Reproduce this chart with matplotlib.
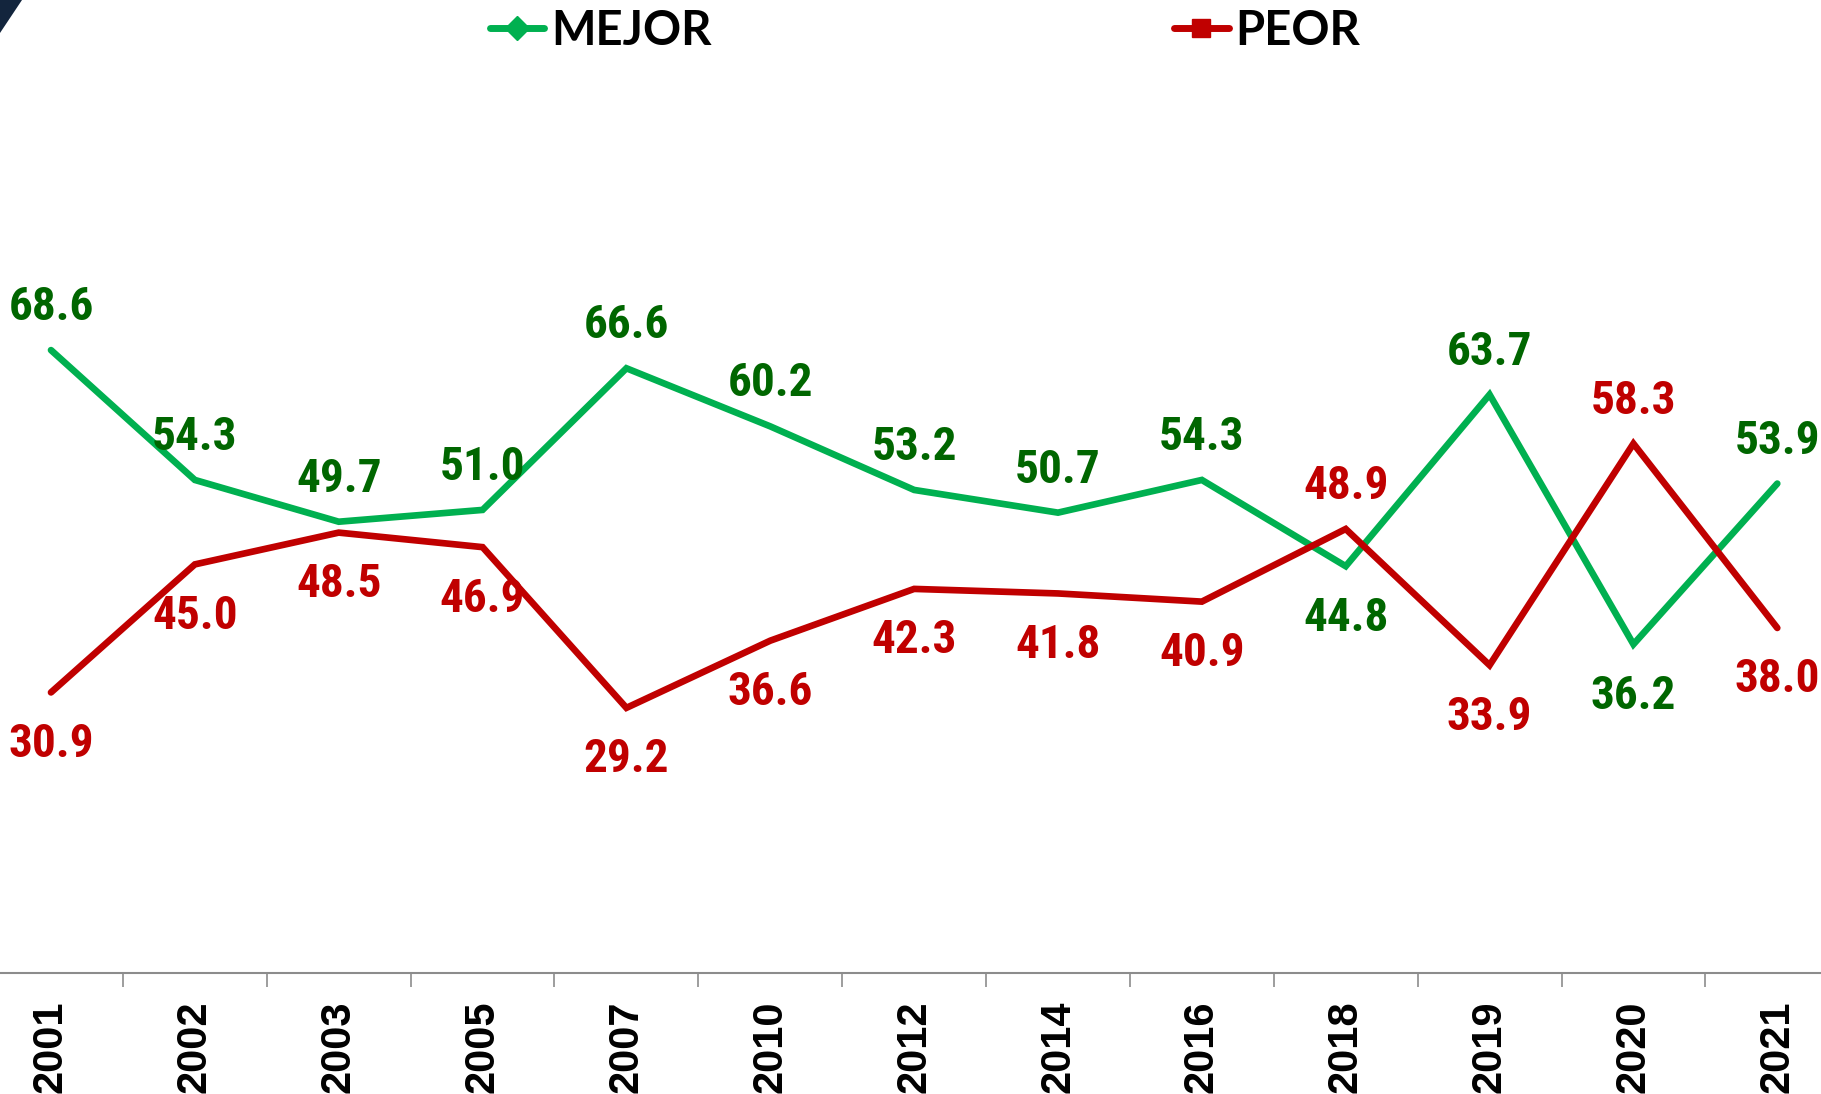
import matplotlib.pyplot as plt
from matplotlib import font_manager
from matplotlib.lines import Line2D
from matplotlib.patches import Polygon

years = ['2001', '2002', '2003', '2005', '2007', '2010', '2012',
         '2014', '2016', '2018', '2019', '2020', '2021']
mejor = [68.6, 54.3, 49.7, 51.0, 66.6, 60.2, 53.2, 50.7, 54.3, 44.8, 63.7, 36.2, 53.9]
peor = [30.9, 45.0, 48.5, 46.9, 29.2, 36.6, 42.3, 41.8, 40.9, 48.9, 33.9, 58.3, 38.0]
# label placement: 1 = above the point, -1 = below
mejor_side = [1, 1, 1, 1, 1, 1, 1, 1, 1, -1, 1, -1, 1]
peor_side = [-1, -1, -1, -1, -1, -1, -1, -1, -1, 1, -1, 1, -1]

green = '#00B050'
red = '#C00000'
green_txt = '#006600'

# narrow bold face for the data labels, whichever is installed
names = {f.name for f in font_manager.fontManager.ttflist}
narrow_name = None
for n in ['Liberation Sans Narrow', 'Roboto Condensed', 'Open Sans Condensed', 'DejaVu Sans Condensed']:
    if n in names:
        narrow_name = n
        break
if narrow_name is None:
    narrow = dict(family=['DejaVu Sans'], fontstretch='condensed', fontsize=31)
else:
    narrow = dict(family=[narrow_name, 'DejaVu Sans'], fontsize=34)

fig = plt.figure(figsize=(18.21, 10.94), dpi=100)
ax = fig.add_axes([-0.0115, 0.1106, 1.027, 0.83])

x = list(range(len(years)))
ax.plot(x, mejor, color=green, lw=4.8, solid_capstyle='round', solid_joinstyle='miter')
ax.plot(x, peor, color=red, lw=4.8, solid_capstyle='round', solid_joinstyle='miter')

for i in x:
    ax.annotate(f'{mejor[i]:.1f}', (i, mejor[i]),
                xytext=(0, 31 if mejor_side[i] > 0 else -37), textcoords='offset points',
                ha='center', va='center', fontweight='bold', color=green_txt, **narrow)
    ax.annotate(f'{peor[i]:.1f}', (i, peor[i]),
                xytext=(0, 31 if peor_side[i] > 0 else -37), textcoords='offset points',
                ha='center', va='center', fontweight='bold', color=red, **narrow)

ax.set_xlim(-0.5, len(years) - 0.5)
ax.set_ylim(0, 100)
ax.set_yticks([])
for s in ['top', 'right', 'left']:
    ax.spines[s].set_visible(False)
ax.spines['bottom'].set_color('#8c8c8c')
ax.spines['bottom'].set_linewidth(1.5)

ax.set_xticks(x)
ax.set_xticklabels(years, rotation=90, fontsize=30, fontweight='bold',
                   family=['Liberation Sans', 'DejaVu Sans'], va='top')
ax.tick_params(axis='x', which='major', length=0, pad=20)
ax.set_xticks([i + 0.5 for i in x[:-1]], minor=True)
ax.tick_params(axis='x', which='minor', length=10, width=1.2, color='#8c8c8c', direction='out')

handles = [
    Line2D([], [], color=green, lw=5, marker='D', markersize=12, solid_capstyle='round'),
    Line2D([], [], color=red, lw=5, marker='s', markersize=13, solid_capstyle='round'),
]
fig.legend(handles, ['MEJOR', 'PEOR'], loc='center', bbox_to_anchor=(0.508, 0.972),
           ncol=2, frameon=False, handlelength=1.15, handletextpad=0.15,
           columnspacing=9.8, prop={'family': ['Lato', 'DejaVu Sans'], 'weight': 'bold', 'size': 34})

# dark corner decoration top-left
fig.patches.append(Polygon([(0, 1), (22 / 1821, 1), (0, 1 - 33 / 1094)], closed=True,
                           transform=fig.transFigure, facecolor='#13253D', edgecolor='none'))

fig.savefig('out.png', dpi=100)
